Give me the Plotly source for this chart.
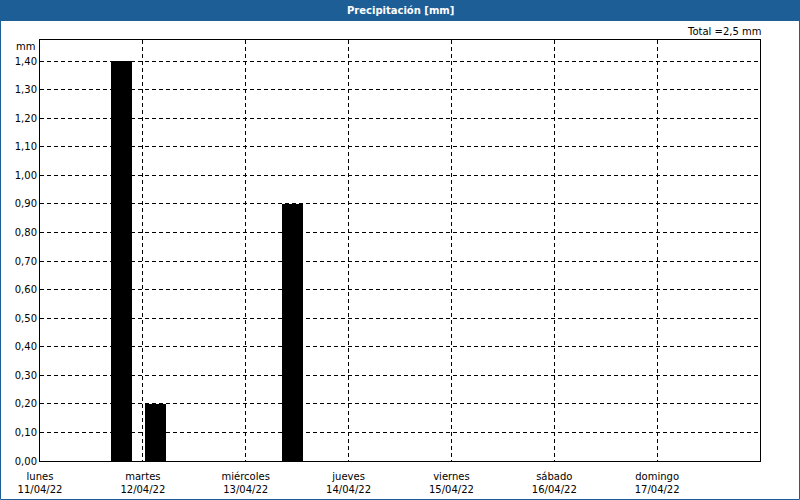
import plotly.graph_objects as go

# Data
times = ["2022-04-11 19:06", "2022-04-12 03:03", "2022-04-13 10:55"]
values = [1.40, 0.20, 0.90]
day_dates = ["2022-04-11", "2022-04-12", "2022-04-13", "2022-04-14",
             "2022-04-15", "2022-04-16", "2022-04-17"]
day_names = ["lunes", "martes", "miércoles", "jueves", "viernes", "sábado", "domingo"]
day_labels = ["11/04/22", "12/04/22", "13/04/22", "14/04/22", "15/04/22", "16/04/22", "17/04/22"]
y_ticks = [i / 10 for i in range(15)]
total = "Total =2,5 mm"
title = "Precipitación [mm]"

W, H = 800, 500
L, R, T, B = 40, 40, 40, 39
pw, ph = W - L - R, H - T - B


def px(x):
    return (x - L) / pw


def py(y):
    return (H - B - y) / ph


BLUE = "#1d5e97"
FONT = "DejaVu Sans"
FS = 10

fig = go.Figure()
fig.add_trace(go.Bar(
    x=times, y=values,
    width=4.9 * 3600 * 1000,
    marker=dict(color="black", line=dict(width=0)),
))

fig.update_layout(
    width=W, height=H,
    margin=dict(l=L, r=R, t=T, b=B, pad=0),
    paper_bgcolor="white", plot_bgcolor="white",
    separators=",.",
    showlegend=False,
    font=dict(family=FONT, size=FS, color="black"),
    bargap=0,
)

fig.update_xaxes(
    type="date",
    range=["2022-04-11 00:00", "2022-04-18 00:00"],
    tickvals=day_dates,
    ticktext=[f"{n}<br>{d}" for n, d in zip(day_names, day_labels)],
    showgrid=True, gridcolor="black", gridwidth=1, griddash="4px,3px",
    showline=True, linecolor="black", linewidth=1, mirror=True,
    ticks="", tickangle=0, ticklabelstandoff=6,
    zeroline=False,
    fixedrange=True,
    automargin=False,
)
fig.update_yaxes(
    range=[0, 1.4735],
    tickvals=y_ticks,
    tickformat=".2f",
    showgrid=True, gridcolor="black", gridwidth=1, griddash="4px,3px",
    showline=True, linecolor="black", linewidth=1, mirror=True,
    ticks="",
    zeroline=False,
    fixedrange=True,
    automargin=False,
)

shapes = [
    # title bar
    dict(type="rect", xref="paper", yref="paper",
         x0=px(0), x1=px(W), y0=py(0), y1=py(21),
         fillcolor=BLUE, line=dict(width=0), layer="above"),
    # outer frame
    dict(type="rect", xref="paper", yref="paper",
         x0=px(0.5), x1=px(W - 0.5), y0=py(0.5), y1=py(H - 0.5),
         fillcolor="rgba(0,0,0,0)", line=dict(color=BLUE, width=1), layer="above"),
]
fig.update_layout(shapes=shapes)

fig.add_annotation(text=f"<b>{title}</b>", xref="paper", yref="paper",
                   x=px(W / 2), y=py(10.5), xanchor="center", yanchor="middle",
                   showarrow=False, font=dict(color="white", size=FS, family=FONT))
fig.add_annotation(text=total, xref="paper", yref="paper",
                   x=px(763), y=py(32), xanchor="right", yanchor="middle",
                   showarrow=False, font=dict(size=FS, family=FONT))
fig.add_annotation(text="mm", xref="paper", yref="paper",
                   x=px(37), y=py(46), xanchor="right", yanchor="middle",
                   showarrow=False, font=dict(size=FS, family=FONT))

fig.write_html("out.html",
               config={"displayModeBar": False},
               post_script="document.body.style.margin='0';document.body.style.padding='0';")
